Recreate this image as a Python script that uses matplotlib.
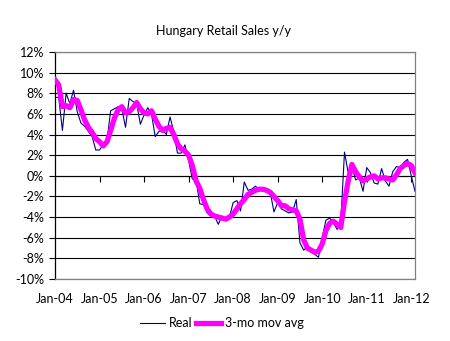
import matplotlib
matplotlib.use("Agg")
import matplotlib.pyplot as plt
import numpy as np

plt.rcParams['font.family'] = ['Lato', 'DejaVu Sans']

title = "Hungary Retail Sales y/y"
tick_labels = ["Jan-04", "Jan-05", "Jan-06", "Jan-07", "Jan-08",
               "Jan-09", "Jan-10", "Jan-11", "Jan-12"]

# Monthly values, Jan-2004 .. Feb-2012 (%)
real = [7.6, 7.6, 4.4, 8.0, 7.0, 8.3, 6.2, 5.1, 4.8, 4.3, 3.8, 2.5,
        2.5, 3.0, 3.4, 6.3, 6.5, 6.7, 6.5, 4.7, 7.5, 7.2, 7.0, 5.0,
        5.9, 6.6, 6.0, 3.8, 4.3, 4.5, 4.0, 5.7, 4.3, 2.2, 2.2, 3.0,
        1.5, -0.3, -0.4, -2.7, -2.8, -3.6, -3.9, -3.9, -4.7, -3.9, -4.1, -4.0,
        -2.6, -2.4, -3.4, -0.6, -1.4, -1.3, -1.0, -1.3, -1.2, -1.3, -1.6, -3.5,
        -2.6, -3.2, -3.4, -3.6, -3.5, -2.3, -6.5, -7.2, -6.9, -7.4, -7.6, -7.9,
        -6.0, -4.3, -4.1, -4.5, -5.2, -4.5, 2.3, 0.3, 0.9, -0.4, -0.2, -1.5,
        0.8, 0.3, -0.7, -0.8, 0.7, -0.5, -1.0, 0.4, 0.9, 0.8, 1.3, 1.6,
        0.0, -1.5]

mov_avg = [9.3, 8.8, 6.7, 6.8, 6.6, 7.4, 7.3, 6.4, 5.4, 4.7, 4.2, 3.6,
           3.3, 2.9, 3.3, 4.4, 5.6, 6.4, 6.7, 6.1, 6.2, 6.6, 7.1, 6.5,
           6.1, 6.0, 6.3, 5.5, 4.8, 4.4, 4.6, 4.7, 4.0, 3.1, 2.6, 2.4,
           2.0, 1.0, -0.5, -1.2, -2.3, -3.2, -3.7, -3.9, -4.0, -4.1, -4.2, -4.0,
           -3.7, -3.2, -2.7, -2.3, -1.8, -1.6, -1.4, -1.3, -1.3, -1.4, -1.6, -2.0,
           -2.4, -2.9, -2.9, -3.2, -3.3, -3.4, -4.2, -6.2, -7.0, -7.2, -7.4, -7.3,
           -6.6, -5.3, -4.6, -4.4, -4.7, -5.0, -2.5, -0.5, 1.1, 0.4, -0.1, -0.5,
           -0.3, -0.1, 0.0, -0.3, -0.2, -0.2, -0.3, -0.4, 0.1, 0.7, 1.0, 1.2,
           1.0, 0.3]

y_ticks = list(range(-10, 13, 2))

fig = plt.figure(figsize=(4.5, 3.41), dpi=100)
ax = fig.add_axes([55/450, 62/341, 360/450, 227/341])

x = np.arange(len(real))
ax.plot(x, real, color='#000080', lw=0.8, label='Real', zorder=3)
ax.plot(x, mov_avg, color='#FF00FF', lw=3.8, label='3-mo mov avg', zorder=4,
        solid_joinstyle='round')

ax.set_xlim(0, len(real) - 1)
ax.set_ylim(-10, 12)
ax.set_yticks(y_ticks)
ax.set_yticklabels([f"{v}%" for v in y_ticks], fontsize=9)
for v in y_ticks:
    ax.axhline(v, color='black', lw=0.8, zorder=1)

xt = np.arange(0, len(real), 12)
ax.set_xticks(xt)
ax.set_xticklabels(tick_labels, fontsize=9)
ax.tick_params(axis='x', length=0, pad=10)
ax.tick_params(axis='y', length=4, width=0.8, direction='out', pad=4)

for s in ['top', 'right', 'bottom']:
    ax.spines[s].set_color('#808080')
    ax.spines[s].set_linewidth(0.9)
ax.spines['left'].set_color('black')
ax.spines['left'].set_linewidth(0.9)

# axis crossing at 0% with tick marks
sec = ax.secondary_xaxis(10/22)
sec.set_xticks(xt)
sec.set_xticklabels([])
sec.tick_params(length=4, width=0.8, direction='out')
sec.spines['bottom'].set_color('black')

fig.text(223/450, 1 - 31/341, title, ha='center', va='center', fontsize=9)

fig.legend(loc='center', bbox_to_anchor=(222/450, 1 - 323/341), ncol=2,
           frameon=False, fontsize=9, handlelength=2.0, columnspacing=0.3,
           handletextpad=0.3)

fig.savefig('out.png', dpi=100)
